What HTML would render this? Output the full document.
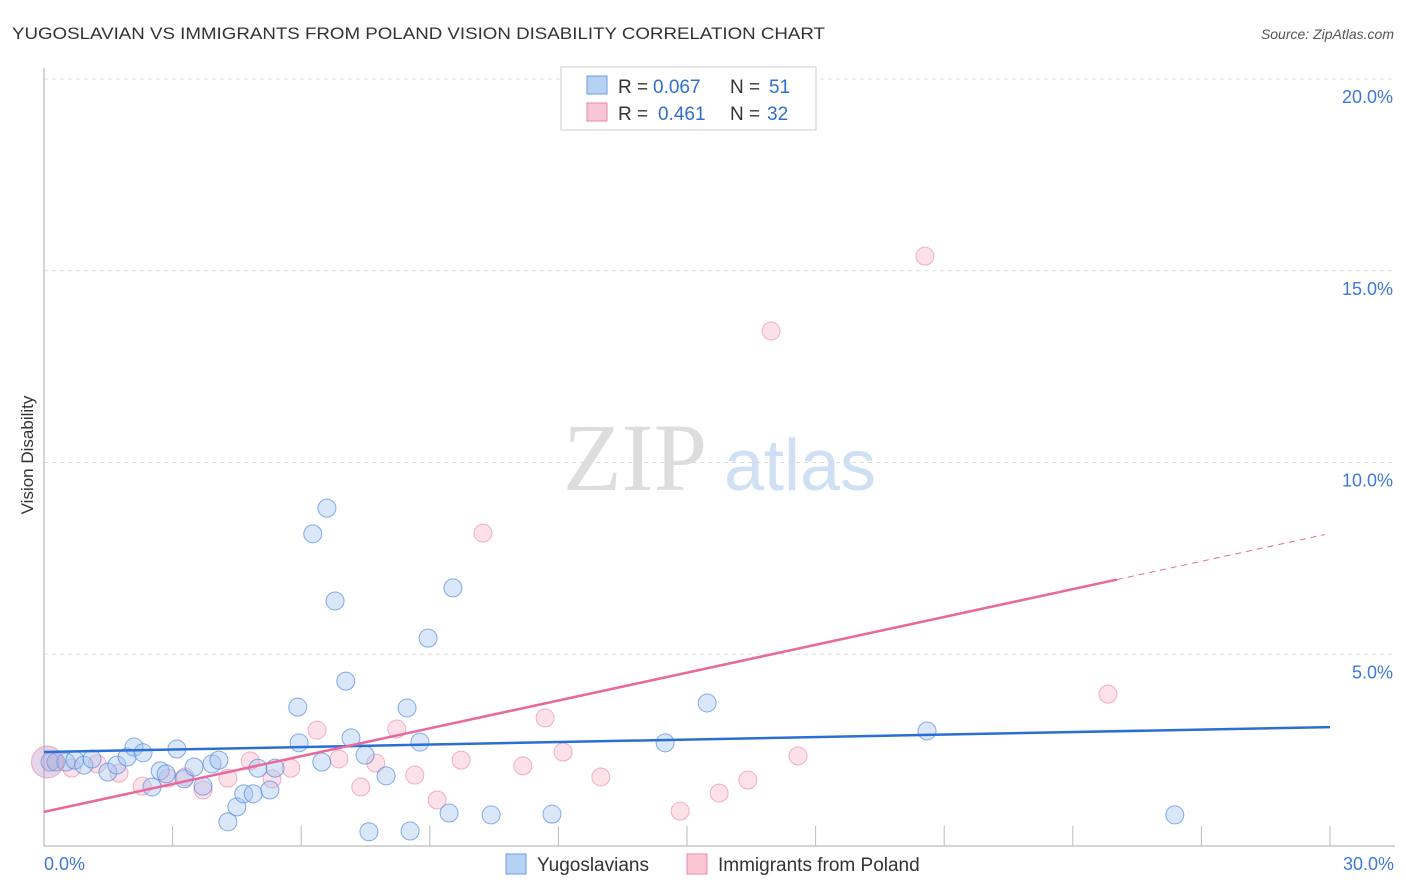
<!DOCTYPE html>
<html><head><meta charset="utf-8"><style>
body{margin:0;background:#fff;font-family:"Liberation Sans",sans-serif}
svg{display:block}
</style></head><body>
<svg id="chart" width="1406" height="892" xmlns="http://www.w3.org/2000/svg">
<text x="12" y="39" font-size="17" fill="#333" textLength="813" lengthAdjust="spacingAndGlyphs">YUGOSLAVIAN VS IMMIGRANTS FROM POLAND VISION DISABILITY CORRELATION CHART</text>
<text x="1394" y="39" font-size="14" fill="#555" font-style="italic" text-anchor="end">Source: ZipAtlas.com</text>
<text x="635" y="490" font-size="96" fill="#ddd" font-family="Liberation Serif,serif" text-anchor="middle">ZIP</text>
<text x="800" y="490" font-size="72" fill="#cfe0f5" text-anchor="middle">atlas</text>
<text transform="translate(33,455) rotate(-90)" font-size="17" fill="#333" text-anchor="middle">Vision Disability</text>
<g id="grid"></g><g id="marks"></g>
<g>
<rect x="561" y="67" width="255" height="63" fill="#fff" stroke="#ccc"/>
<rect x="587" y="76" width="20" height="18" fill="#b7d1f5" stroke="#6a9be0"/>
<rect x="587" y="103" width="20" height="18" fill="#f8c6d5" stroke="#e88aa8"/>
<text x="618" y="93" font-size="19" fill="#333">R =</text>
<text x="653" y="93" font-size="19" fill="#2f6fd0">0.067</text>
<text x="730" y="93" font-size="19" fill="#333">N =</text>
<text x="769" y="93" font-size="19" fill="#2f6fd0">51</text>
<text x="618" y="120" font-size="19" fill="#333">R =</text>
<text x="658" y="120" font-size="19" fill="#2f6fd0">0.461</text>
<text x="730" y="120" font-size="19" fill="#333">N =</text>
<text x="767" y="120" font-size="19" fill="#2f6fd0">32</text>
</g>
<g>
<rect x="506" y="854" width="20" height="20" fill="#b7d1f5" stroke="#6a9be0"/>
<text x="537" y="871" font-size="19" fill="#333">Yugoslavians</text>
<rect x="687" y="854" width="20" height="20" fill="#f8c6d5" stroke="#e88aa8"/>
<text x="718" y="871" font-size="19" fill="#333">Immigrants from Poland</text>
</g>
</svg>
<script>
const xTicks=[0,3,6,9,12,15,18,21,24,27,30];
const yTicks=[5,10,15,20];
const yTickLabels=["5.0%","10.0%","15.0%","20.0%"];
const blueX=[0.14,0.28,0.51,0.72,0.93,1.12,1.49,1.70,1.94,2.10,2.31,2.52,2.71,2.85,3.10,3.27,3.50,3.71,3.92,4.08,4.29,4.50,4.66,4.88,4.99,5.27,5.39,5.92,5.95,6.27,6.48,6.60,6.79,7.04,7.16,7.49,7.58,7.98,8.47,8.54,8.77,8.96,9.45,9.54,10.43,11.85,14.49,15.47,20.60,26.38];
const blueY=[2.19,2.19,2.19,2.24,2.11,2.27,1.93,2.11,2.32,2.58,2.43,1.54,1.96,1.88,2.53,1.75,2.06,1.56,2.14,2.24,0.63,1.02,1.36,1.36,2.03,1.46,2.03,3.62,2.69,8.14,2.19,8.81,6.39,4.30,2.82,2.37,0.37,1.83,3.60,0.39,2.71,5.42,0.86,6.73,0.81,0.83,2.69,3.73,3.00,0.81];
const pinkX=[0.65,1.24,1.75,2.29,2.89,3.29,3.71,4.29,4.81,5.32,5.76,6.37,6.88,7.39,7.74,8.23,8.65,9.17,9.73,10.24,11.17,11.69,12.11,12.99,14.84,15.75,16.42,16.96,17.59,20.55,24.82];
const pinkY=[2.03,2.14,1.90,1.56,1.77,1.80,1.46,1.77,2.22,1.75,2.03,3.02,2.27,1.54,2.16,3.05,1.85,1.20,2.24,8.16,2.09,3.34,2.45,1.80,0.91,1.38,1.72,13.43,2.35,15.38,3.96];
const bigPoint=[0.08,2.19];
const blueTrend=[2.45,0.0217];
const pinkTrend=[0.89,0.242];
const pinkSolidEnd=25.03, pinkDashEnd=29.88;
const X=v=>44+v*(1330-44)/30, Y=v=>846-v*38.35;
const NS="http://www.w3.org/2000/svg";
function mk(t,a,p){const e=document.createElementNS(NS,t);for(const k in a)e.setAttribute(k,a[k]);p.appendChild(e);return e;}
const g=document.getElementById('grid'),m=document.getElementById('marks');
yTicks.forEach((t,i)=>{
 const l=mk('line',{x1:44,x2:1395,y1:Y(t),y2:Y(t),stroke:'#ddd','stroke-dasharray':'4,4'},g);
 
 
 const tx=mk('text',{x:1393,y:Y(t)+24,'font-size':18,fill:'#3d78d8','text-anchor':'end'},g);
 tx.textContent=yTickLabels[i];
 
 
});
const ya=mk('line',{x1:44,x2:44,y1:68,y2:846,stroke:'#aaa'},g);


const xa=mk('line',{x1:44,x2:1395,y1:846,y2:846,stroke:'#aaa'},g);


xTicks.slice(1).forEach(t=>{const l=mk('line',{x1:X(t),x2:X(t),y1:826,y2:846,stroke:'#bbb'},g);
 
 });
[[0,"0.0%",'start',44],[30,"30.0%",'end',1394]].forEach(d=>{const tx=mk('text',{x:d[3],y:870,'font-size':18,fill:'#3d78d8','text-anchor':d[2]},g);tx.textContent=d[1];
 
 });
function dot(x,y,r,fill,stroke,name){const c=mk('circle',{cx:X(x),cy:Y(y),r:r,fill:fill,stroke:stroke,'stroke-width':1},m);
 
 }
pinkX.forEach((x,i)=>dot(x,pinkY[i],9,'rgba(248,180,200,0.4)','rgba(230,130,165,0.6)','poland-point'));
blueX.forEach((x,i)=>dot(x,blueY[i],9,'rgba(160,195,240,0.4)','rgba(70,130,220,0.65)','yugoslavian-point'));
dot(bigPoint[0],bigPoint[1],16,'rgba(190,150,200,0.4)','rgba(230,130,165,0.6)','overlap-point');
const bl=mk('line',{x1:X(0),y1:Y(blueTrend[0]),x2:X(30),y2:Y(blueTrend[0]+30*blueTrend[1]),stroke:'#2a6fd6','stroke-width':2.5},m);


const pl=mk('line',{x1:X(0),y1:Y(pinkTrend[0]),x2:X(pinkSolidEnd),y2:Y(pinkTrend[0]+pinkSolidEnd*pinkTrend[1]),stroke:'#e8699a','stroke-width':2.5},m);


const pd=mk('line',{x1:X(pinkSolidEnd),y1:Y(pinkTrend[0]+pinkSolidEnd*pinkTrend[1]),x2:X(pinkDashEnd),y2:Y(pinkTrend[0]+pinkDashEnd*pinkTrend[1]),stroke:'#e8699a','stroke-width':1,'stroke-dasharray':'6,5'},m);


</script>
</body></html>
